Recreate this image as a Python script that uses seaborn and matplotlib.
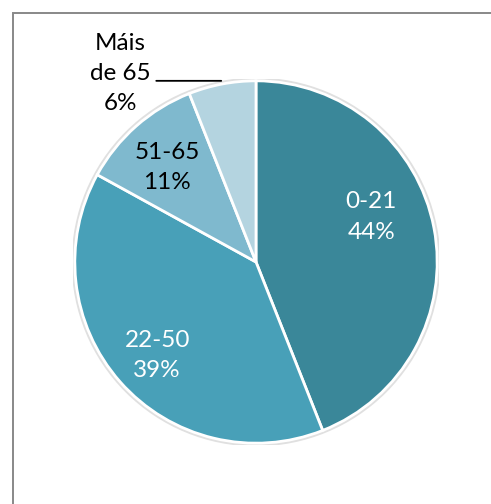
#!/usr/bin/env python3
"""Pie chart of age groups (Galician labels)."""

import matplotlib.pyplot as plt
from matplotlib.patches import Rectangle, Circle
import seaborn as sns

AGE_GROUPS = ["0-21", "22-50", "51-65", "Máis\nde 65"]
SHARES = [44, 39, 11, 6]
COLORS = ["#3a8799", "#48a0b8", "#7fb9ce", "#b4d4e0"]
TEXT_COLORS = ["white", "white", "black", "black"]

# label anchor points in pie units (radius = 1), as laid out in the source
LABEL_POS = [(0.63, 0.245), (-0.54, -0.51), (-0.485, 0.515), (-0.74, 1.03)]


def main():
    sns.set_theme(style="white")
    plt.rcParams["font.family"] = ["Lato", "DejaVu Sans"]

    W, H = 491, 504
    fig = plt.figure(figsize=(W / 100, H / 100), dpi=100)

    # chart frame (grey border, runs off the right and bottom)
    fig.patches.append(Rectangle((13 / W, -0.1), 1.2, (H - 13) / H + 0.1,
                                 transform=fig.transFigure, fill=False,
                                 edgecolor="#888888", linewidth=1.4))

    cx, cy, r = 256, 262, 183
    ax = fig.add_axes([(cx - r) / W, (H - cy - r) / H, 2 * r / W, 2 * r / H])
    # faint shadow ring round the pie
    ax.add_patch(Circle((0, 0), 1.0, facecolor="none", edgecolor="#e0e0e0",
                        linewidth=2, zorder=0))
    ax.pie(SHARES, colors=COLORS, startangle=90, counterclock=False,
           wedgeprops=dict(edgecolor="white", linewidth=2),
           radius=0.99)
    ax.set_xlim(-1, 1)
    ax.set_ylim(-1, 1)
    ax.set_aspect("equal")
    ax.axis("off")

    for name, val, (x, y), tc in zip(AGE_GROUPS, SHARES, LABEL_POS, TEXT_COLORS):
        ax.text(x, y, f"{name}\n{val}%", ha="center", va="center",
                color=tc, fontsize=17.5, linespacing=1.55)

    # leader line for the smallest slice
    ax.annotate("", xy=(-0.19, 0.99), xytext=(-0.545, 0.99),
                arrowprops=dict(arrowstyle="-", color="black", lw=1.3,
                                shrinkA=0, shrinkB=0))

    fig.savefig("out.png", dpi=100)


if __name__ == "__main__":
    main()
